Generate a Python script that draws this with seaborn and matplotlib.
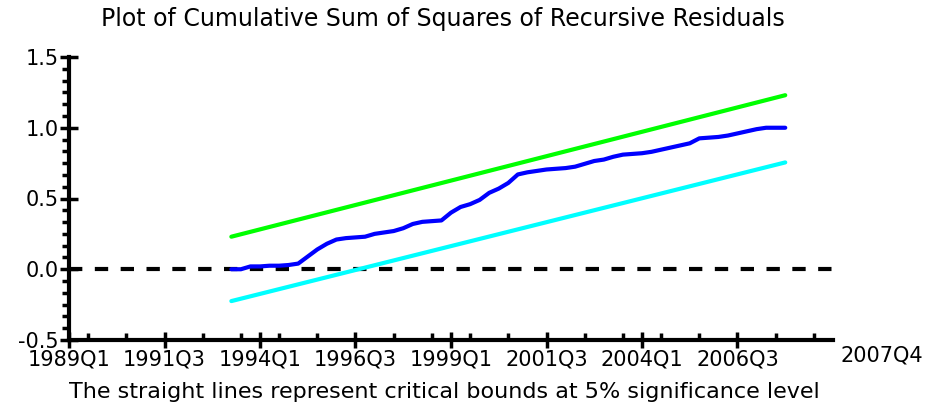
import numpy as np
import pandas as pd
import matplotlib
matplotlib.use("Agg")
import matplotlib.pyplot as plt
from matplotlib.ticker import FixedLocator, MultipleLocator, AutoMinorLocator
import seaborn as sns

# --- Data ---
AXIS_START = "1989Q1"
SAMPLE_START = "1993Q2"
SAMPLE_END = "2007Q4"

cusumsq = [0.0, 0.0, 0.02, 0.02, 0.025, 0.025, 0.03, 0.04, 0.09, 0.14,
           0.18, 0.21, 0.22, 0.225, 0.23, 0.25, 0.26, 0.27, 0.29, 0.32,
           0.335, 0.34, 0.345, 0.40, 0.44, 0.46, 0.49, 0.54, 0.57, 0.61,
           0.67, 0.685, 0.695, 0.705, 0.71, 0.715, 0.725, 0.745, 0.765, 0.775,
           0.795, 0.81, 0.815, 0.82, 0.83, 0.845, 0.86, 0.875, 0.89, 0.925,
           0.93, 0.935, 0.945, 0.96, 0.975, 0.99, 1.0, 1.0, 1.0]
upper_bound = [0.23, 1.23]
lower_bound = [-0.225, 0.755]

tick_labels = ["1989Q1", "1991Q3", "1994Q1", "1996Q3",
               "1999Q1", "2001Q3", "2004Q1", "2006Q3"]
end_label = "2007Q4"


def quarter_offset(periods):
    """Number of quarters since the start of the axis."""
    base = pd.Period(AXIS_START, freq="Q")
    return np.array([(p - base).n for p in periods], dtype=float)


periods = pd.period_range(SAMPLE_START, SAMPLE_END, freq="Q")
df = pd.DataFrame({"t": quarter_offset(periods), "cusumsq": cusumsq})
bounds = pd.DataFrame({
    "t": quarter_offset([periods[0], periods[-1]]),
    "upper": upper_bound,
    "lower": lower_bound,
})
label_pos = quarter_offset([pd.Period(s, freq="Q") for s in tick_labels])

# --- Plot ---
sns.set_style("white")
plt.rcParams["font.family"] = ["DejaVu Sans"]
plt.rcParams["axes.unicode_minus"] = False
plt.rcParams["text.color"] = "black"
plt.rcParams["xtick.color"] = "black"
plt.rcParams["ytick.color"] = "black"

fig = plt.figure(figsize=(9.44, 4.13), dpi=100)
ax = fig.add_axes([69 / 944, 1 - 340 / 413, (833 - 69) / 944, (340 - 57) / 413])

ax.axhline(0, color="black", lw=3, ls=(0, (3.2, 3.0)), zorder=1)
sns.lineplot(data=bounds, x="t", y="upper", color="#00ff00", lw=3, ax=ax)
sns.lineplot(data=bounds, x="t", y="lower", color="#00ffff", lw=3, ax=ax)
sns.lineplot(data=df, x="t", y="cusumsq", color="#0000ff", lw=3, ax=ax)

ax.set_xlim(0, 80)
ax.set_ylim(-0.5, 1.5)
ax.set_xlabel("")
ax.set_ylabel("")

ax.xaxis.set_major_locator(FixedLocator(label_pos))
ax.set_xticklabels(tick_labels)
ax.xaxis.set_minor_locator(FixedLocator(np.arange(2, 80, 4)))
ax.yaxis.set_major_locator(MultipleLocator(0.5))
ax.yaxis.set_minor_locator(AutoMinorLocator(6))
ax.yaxis.set_major_formatter(matplotlib.ticker.FormatStrFormatter("%.1f"))

ax.tick_params(axis="both", which="both", bottom=True, left=True, colors="black")
ax.tick_params(axis="x", which="major", direction="inout", length=12, width=2.5,
               labelsize=15, pad=1)
ax.tick_params(axis="x", which="minor", direction="in", length=5, width=2.5)
ax.tick_params(axis="y", which="major", direction="inout", length=13, width=2.5,
               labelsize=15, pad=1)
ax.tick_params(axis="y", which="minor", direction="out", length=5, width=2.5)

sns.despine(ax=ax)
for side in ("left", "bottom"):
    ax.spines[side].set_linewidth(3)
    ax.spines[side].set_color("black")

fig.text(882 / 944, 1 - 355 / 413, end_label, ha="center", va="center", fontsize=15)
fig.text(443 / 944, 1 - 19 / 413,
         "Plot of Cumulative Sum of Squares of Recursive Residuals",
         ha="center", va="center", fontsize=17)
fig.text(444 / 944, 1 - 392 / 413,
         "The straight lines represent critical bounds at 5% significance level",
         ha="center", va="center", fontsize=16)

fig.savefig("out.png", dpi=100)
